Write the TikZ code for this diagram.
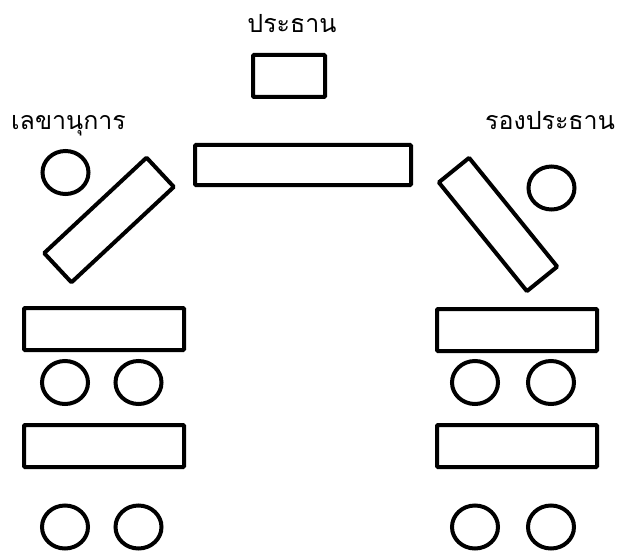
\documentclass[tikz,border=0pt]{standalone}
\usepackage{fontspec}
\newfontfamily\thaifont[Script=Thai]{Loma}
\usetikzlibrary{shapes.geometric}

\begin{document}
\begin{tikzpicture}[
    x=1pt,y=-1pt,
    line width=4pt,
    every node/.style={font=\thaifont\fontsize{25}{29}\selectfont},
    desk/.style={draw=black,rectangle,rounded corners=1pt,inner sep=0pt},
    seat/.style={draw=black,ellipse,minimum width=46pt,minimum height=43pt,inner sep=0pt},
    lbl/.style={anchor=base,inner sep=0pt}
  ]
  \useasboundingbox (0,0) rectangle (622,551);
  % chairman
  \node[lbl] (chairLbl) at (292,33) {ประธาน};
  \node[desk,minimum width=72pt,minimum height=42pt] (chair) at (289,76) {};
  \node[desk,minimum width=216pt,minimum height=40pt] (head) at (303,165) {};
  % secretary
  \node[lbl] (secLbl) at (68.5,130) {เลขานุการ};
  \node[seat] (secSeat) at (65.5,172.5) {};
  \node[desk,minimum width=140pt,minimum height=40pt,rotate=43] (secDesk) at (109,220) {};
  % vice chairman
  \node[lbl] (vpLbl) at (550,130) {รองประธาน};
  \node[seat] (vpSeat) at (551.5,188) {};
  \node[desk,minimum width=140pt,minimum height=39pt,rotate=-51] (vpDesk) at (498,224.5) {};
  % side desks
  \node[desk,minimum width=160pt,minimum height=42pt] (deskL1) at (104,329) {};
  \node[desk,minimum width=160pt,minimum height=42pt] (deskL2) at (104,446) {};
  \node[desk,minimum width=160pt,minimum height=42pt] (deskR1) at (517,330) {};
  \node[desk,minimum width=160pt,minimum height=42pt] (deskR2) at (517,446) {};
  % seats
  \foreach \x/\n in {65/a,138.5/b,475/c,551/d} {
    \node[seat] (seat1\n) at (\x,382.5) {};
    \node[seat] (seat2\n) at (\x,527) {};
  }
\end{tikzpicture}
\end{document}
